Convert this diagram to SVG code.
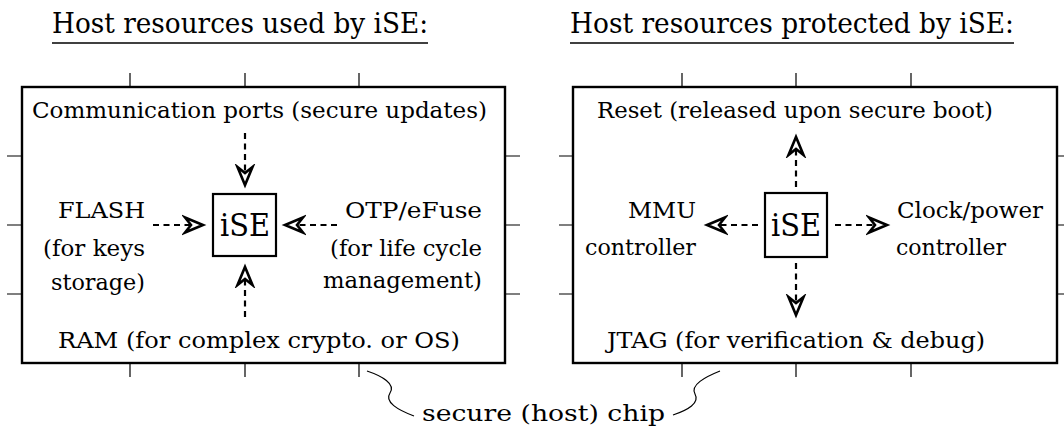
<svg xmlns="http://www.w3.org/2000/svg" width="1064" height="430" viewBox="0 0 1064 430">
<style>
text{font-family:'DejaVu Serif',serif;fill:#000}
.t{font-size:28px}
.b{font-size:23px}
.i{font-size:31px}
.box{fill:none;stroke:#000;stroke-width:2.4}
.ise{fill:#fff;stroke:#000;stroke-width:2.2}
.tick{stroke:#000;stroke-width:1.2;fill:none}
.ul{stroke:#000;stroke-width:1.3}
.arr{stroke:#000;stroke-width:2.2;stroke-dasharray:6 4.5;fill:none;marker-end:url(#head)}
.curl{fill:none;stroke:#000;stroke-width:1.2}
</style>
<defs>
<marker id="head" markerUnits="userSpaceOnUse" viewBox="-3 -3 25 22" markerWidth="25" markerHeight="22" refX="6" refY="8" orient="auto">
<path d="M0,0.5 L18,8 L0,15.5 L6,8 Z" fill="#fff" stroke="#000" stroke-width="2.6" stroke-linejoin="miter" stroke-miterlimit="10" stroke-dasharray="none"/>
</marker>
</defs>
<g id="titles">
<text class="t" x="52" y="33" textLength="376" lengthAdjust="spacingAndGlyphs">Host resources used by iSE:</text>
<line class="ul" x1="52" y1="43" x2="428" y2="43"/>
<text class="t" x="570" y="33" textLength="444" lengthAdjust="spacingAndGlyphs">Host resources protected by iSE:</text>
<line class="ul" x1="570" y1="43" x2="1014" y2="43"/>
</g>
<g id="chip-left">
<path class="tick" d="M130,73V87M245,73V87M359,73V87M130,363V377M245,363V377M359,363V377M7,156H22M7,225H22M7,294H22M505,156H520M505,225H520M505,294H520"/>
<rect class="box" x="22" y="87" width="483" height="276"/>
</g>
<g id="chip-right">
<path class="tick" d="M682,73V87M796,73V87M911,73V87M682,363V377M796,363V377M911,363V377M559,156H573M559,225H573M559,294H573M1057,156H1064M1057,225H1064M1057,294H1064"/>
<rect class="box" x="573" y="87" width="484" height="276"/>
</g>
<g id="ise-left">
<rect class="ise" x="213" y="194" width="63" height="62"/>
<text class="i" x="220" y="236" textLength="50" lengthAdjust="spacingAndGlyphs">iSE</text>
</g>
<g id="ise-right">
<rect class="ise" x="765" y="193" width="62" height="64"/>
<text class="i" x="771" y="236" textLength="50" lengthAdjust="spacingAndGlyphs">iSE</text>
</g>
<g id="comm-ports"><text class="b" x="32" y="118" textLength="455" lengthAdjust="spacingAndGlyphs">Communication ports (secure updates)</text></g>
<g id="flash">
<text class="b" x="145" y="218" text-anchor="end" textLength="87" lengthAdjust="spacingAndGlyphs">FLASH</text>
<text class="b" x="145" y="256" text-anchor="end" textLength="102" lengthAdjust="spacingAndGlyphs">(for keys</text>
<text class="b" x="145" y="290" text-anchor="end" textLength="94" lengthAdjust="spacingAndGlyphs">storage)</text>
</g>
<g id="otp">
<text class="b" x="482" y="218" text-anchor="end" textLength="137" lengthAdjust="spacingAndGlyphs">OTP/eFuse</text>
<text class="b" x="482" y="256" text-anchor="end" textLength="152" lengthAdjust="spacingAndGlyphs">(for life cycle</text>
<text class="b" x="482" y="288" text-anchor="end" textLength="159" lengthAdjust="spacingAndGlyphs">management)</text>
</g>
<g id="ram"><text class="b" x="58" y="348" textLength="402" lengthAdjust="spacingAndGlyphs">RAM (for complex crypto. or OS)</text></g>
<g id="reset"><text class="b" x="597" y="118" textLength="396" lengthAdjust="spacingAndGlyphs">Reset (released upon secure boot)</text></g>
<g id="mmu">
<text class="b" x="696" y="218" text-anchor="end" textLength="68" lengthAdjust="spacingAndGlyphs">MMU</text>
<text class="b" x="696" y="255" text-anchor="end" textLength="111" lengthAdjust="spacingAndGlyphs">controller</text>
</g>
<g id="clock">
<text class="b" x="897" y="218" textLength="146" lengthAdjust="spacingAndGlyphs">Clock/power</text>
<text class="b" x="896" y="255" textLength="110" lengthAdjust="spacingAndGlyphs">controller</text>
</g>
<g id="jtag"><text class="b" x="607" y="348" textLength="378" lengthAdjust="spacingAndGlyphs">JTAG (for verification &amp; debug)</text></g>
<g id="chip-label"><text class="b" x="422" y="421" textLength="243" lengthAdjust="spacingAndGlyphs">secure (host) chip</text></g>
<g id="connectors">
<path class="arr" d="M245,133V173"/>
<path class="arr" d="M153,225H191"/>
<path class="arr" d="M337,225H297"/>
<path class="arr" d="M245,317V279"/>
<path class="arr" d="M796,187V149"/>
<path class="arr" d="M758,225H719"/>
<path class="arr" d="M835,225H875"/>
<path class="arr" d="M796,263V303"/>
<path class="curl" d="M367,371 C382,376 396,384 390,393 C384,402 398,410 414,416"/>
<path class="curl" d="M673,415 C688,410 700,403 695,394 C690,385 705,377 720,371"/>
</g>
</svg>
